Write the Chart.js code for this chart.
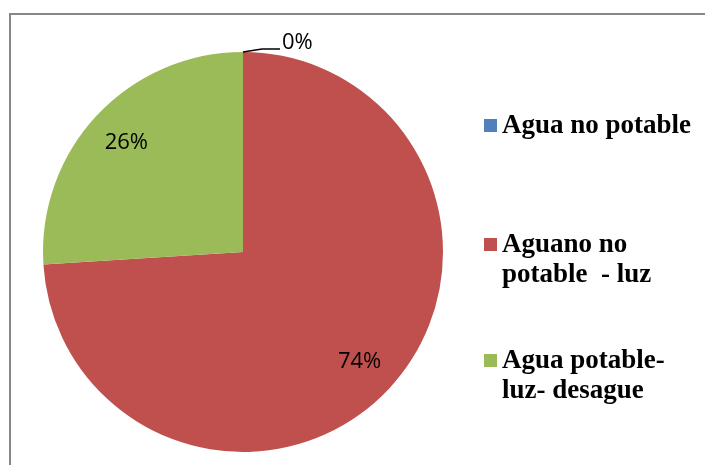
<!DOCTYPE html>
<html>
<head>
<meta charset="utf-8">
<script src="https://cdn.jsdelivr.net/npm/chart.js@4/dist/chart.umd.min.js"></script>
<style>
  html, body { margin: 0; padding: 0; background: #fff; }
  #wrap { position: relative; width: 705px; height: 465px; }
  #wrap canvas { position: absolute; left: 0; top: 0; }
  .leg { position: absolute; left: 484px; }
  .leg .box { position: absolute; left: 0; width: 13px; height: 13px; }
  .leg .txt { position: absolute; left: 18px; top: 0; white-space: pre;
    font: bold 27px "Liberation Serif", "Times New Roman", serif; line-height: 30px; color: #000; }
</style>
</head>
<body>
<div id="wrap">
  <canvas id="pieChart" width="705" height="465"></canvas>
  <div id="legend"></div>
</div>
<script>
// chart data
const categories = ['Agua no potable', 'Aguano no\npotable  - luz', 'Agua potable-\nluz- desague'];
const values = [0, 74, 26];
const colors = ['#4F81BD', '#C0504D', '#9BBB59'];

// legend (HTML so the text stays text)
const legendTops = [109, 228, 344];
const legendEl = document.getElementById('legend');
categories.forEach((cat, i) => {
  const item = document.createElement('div');
  item.className = 'leg';
  item.style.top = legendTops[i] + 'px';
  const box = document.createElement('div');
  box.className = 'box';
  box.style.background = colors[i];
  box.style.top = '10px';
  const txt = document.createElement('div');
  txt.className = 'txt';
  txt.textContent = cat;
  item.appendChild(box);
  item.appendChild(txt);
  legendEl.appendChild(item);
});

// gray frame like the spreadsheet chart area
const framePlugin = {
  id: 'frame',
  beforeDraw(chart) {
    const c = chart.ctx;
    c.save();
    c.fillStyle = '#fff';
    c.fillRect(0, 0, chart.width, chart.height);
    c.strokeStyle = '#878787';
    c.lineWidth = 2;
    c.beginPath();
    c.moveTo(10, chart.height);
    c.lineTo(10, 14);
    c.lineTo(chart.width, 14);
    c.stroke();
    c.restore();
  }
};

// percentage labels, the 0% one sits outside with a leader line
const pctPlugin = {
  id: 'pct',
  afterDatasetsDraw(chart) {
    const c = chart.ctx;
    const data = chart.data.datasets[0].data;
    const total = data.reduce((a, b) => a + b, 0);
    const arcs = chart.getDatasetMeta(0).data;
    c.save();
    c.fillStyle = '#000';
    c.font = '22px "Open Sans", "Liberation Sans", sans-serif';
    arcs.forEach((arc, i) => {
      const p = arc.getProps(['x', 'y', 'startAngle', 'endAngle', 'outerRadius'], true);
      const txt = Math.round(data[i] / total * 100) + '%';
      const mid = (p.startAngle + p.endAngle) / 2;
      if (data[i] / total < 0.02) {
        const ex = p.x + Math.cos(mid) * p.outerRadius;
        const ey = p.y + Math.sin(mid) * p.outerRadius;
        c.strokeStyle = '#000';
        c.lineWidth = 1.3;
        c.beginPath();
        c.moveTo(ex, ey);
        c.lineTo(ex + 19, ey - 3);
        c.lineTo(ex + 37, ey - 3);
        c.stroke();
        c.textAlign = 'left';
        c.textBaseline = 'middle';
        c.fillText(txt, ex + 39, ey - 9);
      } else {
        const r = p.outerRadius * 0.8;
        c.textAlign = 'center';
        c.textBaseline = 'middle';
        c.fillText(txt, p.x + Math.cos(mid) * r, p.y + Math.sin(mid) * r);
      }
    });
    c.restore();
  }
};

new Chart(document.getElementById('pieChart').getContext('2d'), {
  type: 'pie',
  data: {
    labels: categories,
    datasets: [{
      data: values,
      backgroundColor: colors,
      borderWidth: 0,
      hoverOffset: 0
    }]
  },
  options: {
    responsive: false,
    animation: false,
    events: [],
    layout: { padding: { left: 43, top: 52, right: 262, bottom: 13 } },
    plugins: {
      legend: { display: false },
      tooltip: { enabled: false }
    }
  },
  plugins: [framePlugin, pctPlugin]
});
</script>
</body>
</html>
